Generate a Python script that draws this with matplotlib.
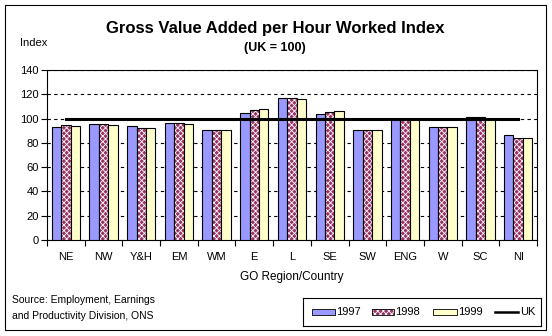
import matplotlib
matplotlib.use("Agg")
import matplotlib.pyplot as plt
from matplotlib.patches import Rectangle
import numpy as np

plt.rcParams['font.family'] = ['Liberation Sans', 'DejaVu Sans']
plt.rcParams['hatch.linewidth'] = 0.6

regions = ["NE", "NW", "Y&H", "EM", "WM", "E", "L", "SE", "SW", "ENG", "W", "SC", "NI"]
v1997 = [93.3, 95.8, 94.2, 96.7, 90.8, 105.0, 117.3, 104.1, 91.0, 99.5, 93.4, 101.6, 86.8]
v1998 = [95.0, 95.8, 92.5, 96.7, 90.8, 106.7, 117.3, 105.2, 91.0, 99.5, 93.4, 101.6, 84.4]
v1999 = [94.2, 95.0, 92.5, 95.8, 90.8, 107.5, 116.4, 106.6, 91.0, 99.5, 93.4, 99.5, 84.4]
uk = 100

fig = plt.figure(figsize=(5.52, 3.36), dpi=100)
ax = fig.add_axes([47/552, 1-240/336, 490/552, 170/336])

x = np.arange(len(regions))
w = 0.25
ax.bar(x - w, v1997, w, color='#9999FF', edgecolor='black', linewidth=0.8, zorder=3)
# 1998: checkered maroon pattern, drawn as hatch then outlined
ax.bar(x, v1998, w, color='#993366', hatch='xxxxxx', edgecolor='white', linewidth=0, zorder=3)
ax.bar(x, v1998, w, fill=False, edgecolor='black', linewidth=0.8, zorder=3)
ax.bar(x + w, v1999, w, color='#FFFFCC', edgecolor='black', linewidth=0.8, zorder=3)
ax.plot([x[0], x[-1]], [uk, uk], color='black', linewidth=2.2, zorder=4)

ax.set_xlim(-0.5, len(regions) - 0.5)
ax.set_ylim(0, 140)
ax.set_yticks(range(0, 141, 20))
ax.set_xticks(x)
ax.set_xticklabels(regions, fontsize=8)
ax.tick_params(axis='x', length=0, pad=9)
ax.set_xticks(np.arange(-0.5, len(regions), 1), minor=True)
ax.tick_params(axis='x', which='minor', length=4, width=0.8, direction='out')
ax.tick_params(axis='y', labelsize=8, length=4, width=0.8, direction='out', pad=2)
ax.yaxis.grid(True, linestyle=(0, (3, 3)), color='black', linewidth=0.8, zorder=0)
ax.set_axisbelow(True)
for s in ax.spines.values():
    s.set_linewidth(0.8)

fig.text(292/552, 1-277/336, "GO Region/Country", ha='center', va='center', fontsize=8.5)
fig.text(275/552, 1-28/336, "Gross Value Added per Hour Worked Index", ha='center', va='center',
         fontsize=12, fontweight='bold')
fig.text(275/552, 1-48/336, "(UK = 100)", ha='center', va='center', fontsize=9, fontweight='bold')
fig.text(20/552, 1-43/336, "Index", ha='left', va='center', fontsize=8)
fig.text(12/552, 1-300/336, "Source: Employment, Earnings", ha='left', va='center', fontsize=7.5)
fig.text(12/552, 1-316/336, "and Productivity Division, ONS", ha='left', va='center', fontsize=7.5)

# outer border
fig.patches.append(Rectangle((5/552, 1-330/336), 541/552, 325/336, transform=fig.transFigure,
                             fill=False, edgecolor='black', linewidth=0.8))

# legend box
lax = fig.add_axes([303/552, 1-326/336, 238/552, 28/336])
lax.set_xlim(0, 238)
lax.set_ylim(0, 28)
lax.set_xticks([])
lax.set_yticks([])
for s in lax.spines.values():
    s.set_linewidth(0.8)
lax.add_patch(Rectangle((9, 11), 23, 6, facecolor='#9999FF', edgecolor='black', linewidth=0.6))
lax.text(33, 14, "1997", va='center', fontsize=8)
lax.add_patch(Rectangle((69, 11), 22, 6, facecolor='#993366', hatch='xxxxxx', edgecolor='white', linewidth=0))
lax.add_patch(Rectangle((69, 11), 22, 6, fill=False, edgecolor='black', linewidth=0.6))
lax.text(92, 14, "1998", va='center', fontsize=8)
lax.add_patch(Rectangle((130, 11), 24, 6, facecolor='#FFFFCC', edgecolor='black', linewidth=0.6))
lax.text(155, 14, "1999", va='center', fontsize=8)
lax.plot([192, 215], [14, 14], color='black', linewidth=1.8)
lax.text(217, 14, "UK", va='center', fontsize=8)

fig.savefig("out.png", dpi=100)
